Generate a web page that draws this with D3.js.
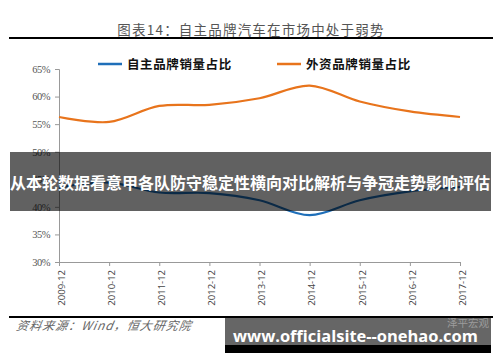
<!DOCTYPE html>
<html><head><meta charset="utf-8">
<script src="https://cdn.jsdelivr.net/npm/d3@7"></script>
<style>
html,body{margin:0;padding:0;background:#fff;}
svg{display:block;}
</style></head>
<body>
<svg id="c" width="500" height="362"></svg>
<script>
const categories = ["2009-12","2010-12","2011-12","2012-12","2013-12","2014-12","2015-12","2016-12","2017-12"];
const domesticShare = [43.5, 44.4, 42.6, 42.5, 41.2, 38.5, 41.2, 42.8, 43.6];
const foreignShare  = [56.3, 55.4, 58.3, 58.5, 59.7, 62.0, 59.1, 57.3, 56.3];
const yTicks = [30, 35, 40, 45, 50, 55, 60, 65];
const seriesNames = ["自主品牌销量占比", "外资品牌销量占比"];
const titleText = "图表14：自主品牌汽车在市场中处于弱势";
const sourceText = "资料来源：Wind，恒大研究院";
const bannerText = "从本轮数据看意甲各队防守稳定性横向对比解析与争冠走势影响评估";
const watermarkText = "www.officialsite--onehao.com";
const watermarkLogo = "泽平宏观";

const svg = d3.select("#c");
const colors = ["#1f6fb9", "#e8741c"];

const x = d3.scalePoint().domain(categories).range([59, 460]);
const y = d3.scaleLinear().domain([30, 65]).range([262, 69]);

// title
svg.append("text").attr("x", 251).attr("y", 35).attr("text-anchor", "middle")
  .attr("font-family", "'Noto Sans CJK SC', sans-serif").attr("font-size", 13.5)
  .attr("letter-spacing", 1.2).attr("fill", "#555").text(titleText);
svg.append("line").attr("x1", 9).attr("x2", 493).attr("y1", 38).attr("y2", 38)
  .attr("stroke", "#000").attr("stroke-width", 2);

// legend
const legX = [98, 277];
seriesNames.forEach((n, i) => {
  svg.append("line").attr("x1", legX[i]).attr("x2", legX[i] + 24).attr("y1", 64).attr("y2", 64)
    .attr("stroke", colors[i]).attr("stroke-width", 2.5);
  svg.append("text").attr("x", legX[i] + 29).attr("y", 69)
    .attr("font-family", "'Noto Sans CJK SC', sans-serif").attr("font-size", 12.5).attr("font-weight", "bold")
    .attr("letter-spacing", 0.6).attr("fill", "#111").text(n);
});

// y axis
const yAxis = svg.append("g").attr("transform", "translate(59,0)")
  .call(d3.axisLeft(y).tickValues(yTicks).tickFormat(d => d + "%").tickSize(4).tickPadding(5));
yAxis.select(".domain").attr("stroke", "#999");
yAxis.selectAll(".tick line").attr("stroke", "#999");
yAxis.selectAll("text").attr("font-family", "'Liberation Serif', serif").attr("font-size", 10.5)
  .attr("fill", "#555").attr("letter-spacing", -0.5);

// x axis
const xAxis = svg.append("g").attr("transform", "translate(0,262)")
  .call(d3.axisBottom(x).tickSize(4).tickSizeOuter(0).tickPadding(4));
xAxis.select(".domain").attr("stroke", "#999");
xAxis.selectAll(".tick line").attr("stroke", "#999");
xAxis.selectAll("text").attr("font-family", "'Open Sans', sans-serif").attr("font-size", 9.5)
  .attr("fill", "#444").attr("text-anchor", "end")
  .attr("x", -8).attr("y", 0).attr("dy", "0.35em").attr("dx", 0);
xAxis.selectAll(".tick text").attr("transform", "translate(2,0) rotate(-90)");

// lines
const line = d3.line().x((d, i) => x(categories[i])).y(d => y(d)).curve(d3.curveCatmullRom.alpha(0.5));
[domesticShare, foreignShare].forEach((s, i) => {
  svg.append("path").datum(s).attr("d", line).attr("fill", "none")
    .attr("stroke", colors[i]).attr("stroke-width", 2.2);
});

// footer
svg.append("line").attr("x1", 9).attr("x2", 493).attr("y1", 317).attr("y2", 317)
  .attr("stroke", "#000").attr("stroke-width", 2);
svg.append("text").attr("x", 17).attr("y", 330)
  .attr("font-family", "'Noto Sans CJK SC', sans-serif").attr("font-size", 12).attr("font-style", "italic")
  .attr("letter-spacing", 1).attr("fill", "#666").attr("transform", "skewX(-10) translate(57,0)").text(sourceText);

// banner overlay
svg.append("rect").attr("x", 10).attr("y", 152).attr("width", 481).attr("height", 59)
  .attr("fill", "rgba(0,0,0,0.62)");
svg.append("text").attr("x", 250).attr("y", 189).attr("text-anchor", "middle")
  .attr("font-family", "'Noto Sans CJK SC', sans-serif").attr("font-size", 16).attr("font-weight", "bold")
  .attr("fill", "#fff").text(bannerText);

// watermark box
svg.append("rect").attr("x", 225).attr("y", 318).attr("width", 266).attr("height", 27).attr("fill", "#666");
svg.append("rect").attr("x", 225).attr("y", 345).attr("width", 266).attr("height", 8).attr("fill", "#000");
svg.append("text").attr("x", 489).attr("y", 327).attr("text-anchor", "end")
  .attr("font-family", "'Noto Sans CJK SC', sans-serif").attr("font-size", 10.5)
  .attr("fill", "#aaa").attr("opacity", 0.8).text(watermarkLogo);
const wm = svg.append("text").attr("x", 233).attr("y", 342)
  .attr("font-family", "'Open Sans', sans-serif").attr("font-size", 19).attr("font-weight", "bold")
  .attr("fill", "#fff").text(watermarkText);
const w = wm.node().getComputedTextLength();
if (w > 0) wm.attr("font-size", 19 * 245 / w);
</script>
</body></html>
